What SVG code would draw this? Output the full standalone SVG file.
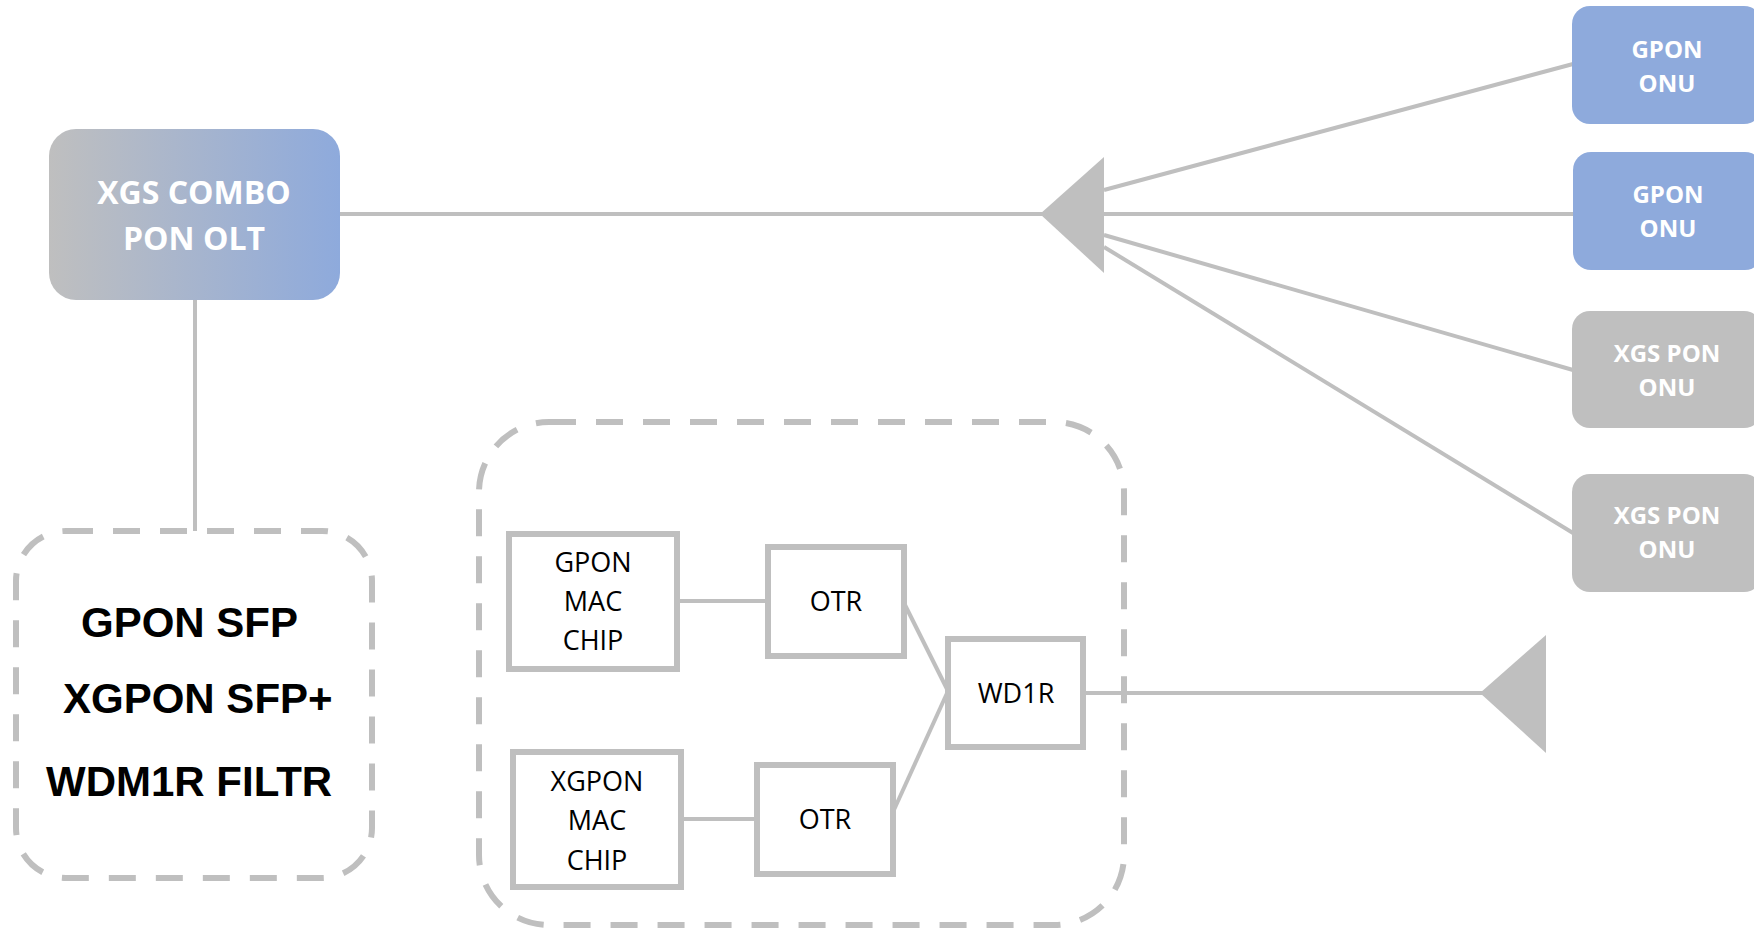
<svg xmlns="http://www.w3.org/2000/svg" width="1754" height="928" viewBox="0 0 1754 928">
<defs>
<linearGradient id="oltGrad" x1="0" y1="0" x2="1" y2="0">
<stop offset="0" stop-color="#BFBFBF"/>
<stop offset="1" stop-color="#8EAADC"/>
</linearGradient>
<style>
.conn{stroke:#BFBFBF;stroke-width:4;fill:none}
.split{fill:#BFBFBF}
.dash{fill:none;stroke:#BFBFBF;stroke-width:6;stroke-dasharray:27 20}
.box{fill:#FFFFFF;stroke:#BFBFBF;stroke-width:6}
.blue{fill:#8EAADC}
.gray{fill:#BFBFBF}
.wt{font-family:"Open Sans","Liberation Sans",sans-serif;font-weight:bold;fill:#FFFFFF;text-anchor:middle}
.bt{font-family:"Open Sans","Liberation Sans",sans-serif;font-size:27px;fill:#000000;text-anchor:middle}
.big{font-family:"Liberation Sans",Arial,sans-serif;font-weight:bold;font-size:42px;fill:#000000}
</style>
</defs>
<rect width="1754" height="928" fill="#FFFFFF"/>
<g id="connectors">
<line class="conn" x1="340" y1="214" x2="1045" y2="214"/>
<line class="conn" x1="1104" y1="190" x2="1573" y2="64"/>
<line class="conn" x1="1104" y1="214" x2="1574" y2="214"/>
<line class="conn" x1="1104" y1="235" x2="1573" y2="370"/>
<line class="conn" x1="1104" y1="247" x2="1573" y2="533"/>
<line class="conn" x1="195" y1="300" x2="195" y2="531"/>
<line class="conn" x1="677" y1="601" x2="768" y2="601"/>
<line class="conn" x1="681" y1="819" x2="758" y2="819"/>
<line class="conn" x1="904" y1="603" x2="948" y2="691"/>
<line class="conn" x1="893" y1="812" x2="948" y2="691"/>
<line class="conn" x1="1083" y1="693" x2="1484" y2="693"/>
</g>
<g id="splitter1"><polygon class="split" points="1040,214 1104,157 1104,273"/></g>
<g id="splitter2"><polygon class="split" points="1480,693 1546,635 1546,753"/></g>
<g id="olt">
<rect x="49" y="129" width="291" height="171" rx="27" fill="url(#oltGrad)"/>
<text class="wt" x="194" y="204" font-size="32">XGS COMBO</text>
<text class="wt" x="194" y="250" font-size="32">PON OLT</text>
</g>
<g id="onu1">
<rect class="blue" x="1572" y="6" width="190" height="118" rx="18"/>
<text class="wt" x="1667" y="58" font-size="24">GPON</text>
<text class="wt" x="1667" y="92" font-size="24">ONU</text>
</g>
<g id="onu2">
<rect class="blue" x="1573" y="152" width="190" height="118" rx="18"/>
<text class="wt" x="1668" y="203" font-size="24">GPON</text>
<text class="wt" x="1668" y="237" font-size="24">ONU</text>
</g>
<g id="onu3">
<rect class="gray" x="1572" y="311" width="190" height="117" rx="18"/>
<text class="wt" x="1667" y="362" font-size="24">XGS PON</text>
<text class="wt" x="1667" y="396" font-size="24">ONU</text>
</g>
<g id="onu4">
<rect class="gray" x="1572" y="474" width="190" height="118" rx="18"/>
<text class="wt" x="1667" y="524" font-size="24">XGS PON</text>
<text class="wt" x="1667" y="558" font-size="24">ONU</text>
</g>
<g id="sfp-group">
<rect class="dash" x="16" y="531" width="356" height="347" rx="50"/>
<text class="big" x="81" y="637">GPON SFP</text>
<text class="big" x="63" y="713">XGPON SFP+</text>
<text class="big" x="46" y="796">WDM1R FILTR</text>
</g>
<g id="onu-internal">
<rect class="dash" x="479" y="422" width="645" height="503" rx="70"/>
</g>
<g id="gpon-mac">
<rect class="box" x="509" y="534" width="168" height="135"/>
<text class="bt" x="593" y="572">GPON</text>
<text class="bt" x="593" y="611">MAC</text>
<text class="bt" x="593" y="650">CHIP</text>
</g>
<g id="otr1">
<rect class="box" x="768" y="547" width="136" height="109"/>
<text class="bt" x="836" y="611">OTR</text>
</g>
<g id="wd1r">
<rect class="box" x="948" y="639" width="135" height="108"/>
<text class="bt" x="1016" y="703">WD1R</text>
</g>
<g id="xgpon-mac">
<rect class="box" x="513" y="752" width="168" height="135"/>
<text class="bt" x="597" y="791">XGPON</text>
<text class="bt" x="597" y="830">MAC</text>
<text class="bt" x="597" y="870">CHIP</text>
</g>
<g id="otr2">
<rect class="box" x="757" y="765" width="136" height="109"/>
<text class="bt" x="825" y="829">OTR</text>
</g>
</svg>
